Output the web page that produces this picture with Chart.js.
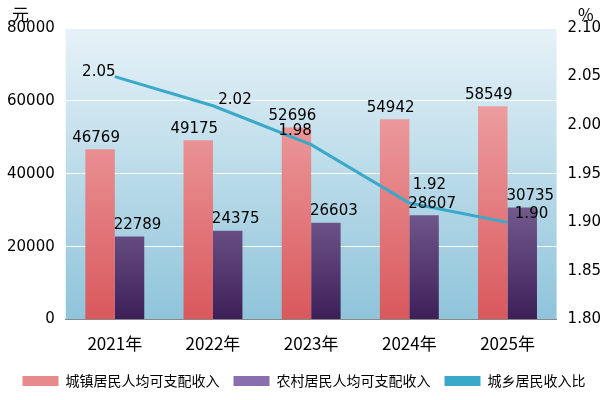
<!DOCTYPE html>
<html><head><meta charset="utf-8">
<script src="https://cdn.jsdelivr.net/npm/chart.js@4"></script>
<style>body{margin:0;background:#fff}#wrap{width:610px;height:400px}</style>
</head><body><div id="wrap"><canvas id="c"></canvas></div>
<script>
const years = ["2021年","2022年","2023年","2024年","2025年"];
const urban = [46769, 49175, 52696, 54942, 58549];
const rural = [22789, 24375, 26603, 28607, 30735];
const ratio = [2.05, 2.02, 1.98, 1.92, 1.90];
const ratioLabelDx = [-16, 22, -16, 20, 24];
const ratioLabelDy = [-4, -6, -14, -18, -8];

function vGrad(ctx, area, top, bottom) {
    const g = ctx.createLinearGradient(0, area.top, 0, area.bottom);
    g.addColorStop(0, top); g.addColorStop(1, bottom);
    return g;
}

const bgPlugin = {
    id: "bg",
    beforeDraw(chart) {
        const {ctx, chartArea: a} = chart;
        ctx.save();
        ctx.fillStyle = vGrad(ctx, a, "#e6f2f8", "#8fc4da");
        ctx.fillRect(a.left, a.top, a.right - a.left, a.bottom - a.top);
        ctx.restore();
        ctx.save();
        ctx.font = "17px 'Noto Sans CJK SC'";
        ctx.fillStyle = "#000";
        ctx.textBaseline = "top";
        ctx.fillText("元", 12, 6);
        ctx.fillText("%", 578, 6);
        ctx.restore();
    }
};

const labelPlugin = {
    id: "labels",
    afterDatasetsDraw(chart) {
        const ctx = chart.ctx;
        ctx.save();
        ctx.font = "15px 'DejaVu Sans'";
        ctx.fillStyle = "#000";
        ctx.textAlign = "center";
        ctx.textBaseline = "bottom";
        chart.getDatasetMeta(0).data.forEach((b, i) => ctx.fillText(urban[i], b.x - 4, b.y - 4));
        chart.getDatasetMeta(1).data.forEach((b, i) => ctx.fillText(rural[i], b.x + 8, b.y - 4));
        ctx.textBaseline = "middle";
        chart.getDatasetMeta(2).data.forEach((p, i) => ctx.fillText(ratio[i].toFixed(2), p.x + ratioLabelDx[i], p.y + ratioLabelDy[i]));
        ctx.restore();
    }
};

new Chart(document.getElementById("c"), {
    data: {
        labels: years,
        datasets: [
            {type: "bar", label: "城镇居民人均可支配收入", data: urban, yAxisID: "y",
             backgroundColor: c => c.chart.chartArea ? vGrad(c.chart.ctx, c.chart.chartArea, "#f4b6b8", "#d9585c") : "#e88",
             categoryPercentage: 0.6, barPercentage: 1, order: 2},
            {type: "bar", label: "农村居民人均可支配收入", data: rural, yAxisID: "y",
             backgroundColor: c => c.chart.chartArea ? vGrad(c.chart.ctx, c.chart.chartArea, "#c9b8e2", "#3d1f58") : "#86a",
             categoryPercentage: 0.6, barPercentage: 1, order: 2},
            {type: "line", label: "城乡居民收入比", data: ratio, yAxisID: "y1",
             borderColor: "#3aa8c8", backgroundColor: "#3aa8c8", borderWidth: 3,
             pointRadius: 0, order: 1}
        ]
    },
    options: {
        responsive: true, maintainAspectRatio: false, animation: false,
        layout: {padding: {top: 28, right: 6, left: 4, bottom: 2}},
        scales: {
            x: {grid: {display: false}, border: {color: "#888"},
                ticks: {color: "#000", padding: 6, font: {size: 17, family: "'Noto Sans CJK SC'"}}},
            y: {position: "left", min: 0, max: 80000,
                ticks: {stepSize: 20000, color: "#000", font: {size: 15, family: "'DejaVu Sans'"}, callback: v => String(v)},
                grid: {color: "#ffffff", lineWidth: 1}, border: {display: false}},
            y1: {position: "right", min: 1.8, max: 2.1,
                ticks: {stepSize: 0.05, color: "#000", font: {size: 15, family: "'DejaVu Sans'"}, callback: v => v.toFixed(2)},
                grid: {display: false}, border: {display: false}}
        },
        plugins: {
            tooltip: {enabled: false},
            legend: {position: "bottom",
                labels: {color: "#000", padding: 14, font: {size: 14, family: "'Noto Sans CJK SC'"}, boxWidth: 36, boxHeight: 10,
                    generateLabels: ch => [
                        {text: "城镇居民人均可支配收入", fillStyle: "#e8898c", strokeStyle: "#e8898c", lineWidth: 0},
                        {text: "农村居民人均可支配收入", fillStyle: "#8a6fae", strokeStyle: "#8a6fae", lineWidth: 0},
                        {text: "城乡居民收入比", fillStyle: "#3aa8c8", strokeStyle: "#3aa8c8", lineWidth: 0}
                    ]}}
        }
    },
    plugins: [bgPlugin, labelPlugin]
});
</script></body></html>
